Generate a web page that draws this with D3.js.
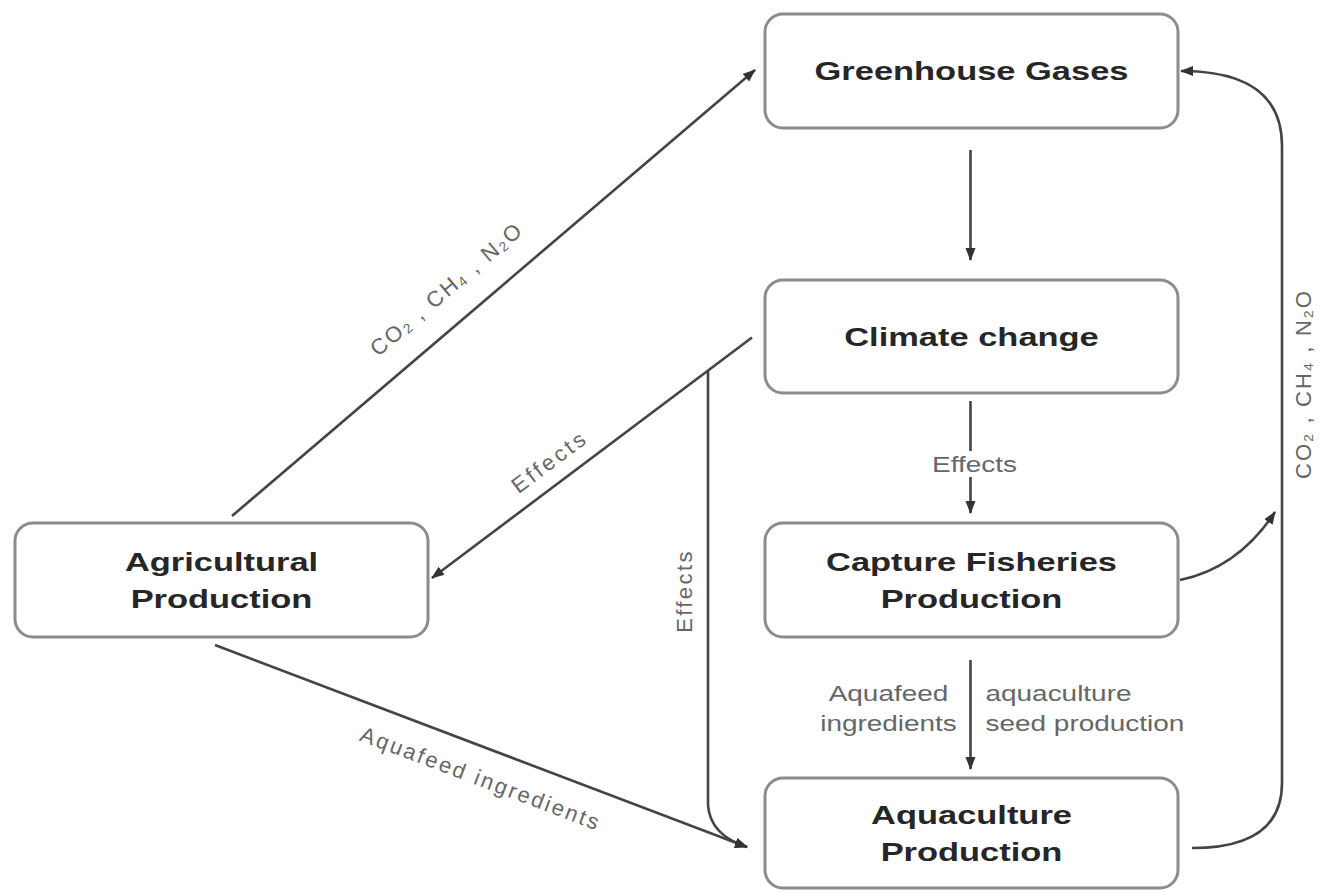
<!DOCTYPE html>
<html><head><meta charset="utf-8">
<script src="https://cdn.jsdelivr.net/npm/d3@7"></script>
<style>body{margin:0;background:#fff}svg{display:block}</style>
</head><body>
<svg id="c" width="1321" height="892"></svg>
<script>
// ---------- data ----------
const nodeIds    = ["ghg", "cc", "cap", "aqua", "agri"];
const nodeLines  = [["Greenhouse Gases"], ["Climate change"], ["Capture Fisheries", "Production"], ["Aquaculture", "Production"], ["Agricultural", "Production"]];
const nodeColumn = ["right", "right", "right", "right", "left"];
const nodeRow    = ["r0", "r1", "r2", "r3", "r2"];

const edgeFrom   = ["agri", "cc", "ghg", "cc", "cap", "agri", "cc", "aqua", "cap"];
const edgeTo     = ["ghg", "agri", "cc", "cap", "aqua", "aqua", "aqua", "ghg", "ghg"];
const edgeLabels = [
  ["CO{2} , CH{4} , N{2}O"],
  ["Effects"],
  [],
  ["Effects"],
  ["Aquafeed|ingredients", "aquaculture|seed production"],
  ["Aquafeed ingredients"],
  ["Effects"],
  ["CO{2} , CH{4} , N{2}O"],
  []
];

// ---------- layout ----------
const svg = d3.select("#c");
const xCol = d3.scaleOrdinal().domain(["left", "right"]).range([15, 765]);
const yRow = d3.scaleOrdinal().domain(["r0", "r1", "r2", "r3"]).range([14, 280, 523, 778]);
const hRow = d3.scaleOrdinal().domain(["r0", "r1", "r2", "r3"]).range([114, 113, 114, 110]);
const boxW = 413;

const nodes = nodeIds.map((id, i) => {
  const x0 = xCol(nodeColumn[i]), y0 = yRow(nodeRow[i]), h = hRow(nodeRow[i]);
  return {id, lines: nodeLines[i], x0, y0, x1: x0 + boxW, y1: y0 + h, cx: x0 + boxW / 2, cy: y0 + h / 2};
});
const N = Object.fromEntries(nodes.map(n => [n.id, n]));

const LINE = "#444", BOX = "#8c8c8c", TXT = "#262626", LAB = "#666";

svg.append("defs").append("marker")
  .attr("id", "ah").attr("viewBox", "-12 -6 13 12")
  .attr("refX", 0).attr("refY", 0)
  .attr("markerWidth", 13).attr("markerHeight", 12)
  .attr("markerUnits", "userSpaceOnUse").attr("orient", "auto")
  .append("path").attr("d", "M1,0 L-12,-5 L-12,5 Z").attr("fill", "#333");

// routes for each edge built from box geometry
function route(i) {
  const A = N.agri, G = N.ghg, C = N.cc, P = N.cap, Q = N.aqua;
  const bx = G.x1 + 104;
  switch (i) {
    case 0: return {pts: [[A.x0 + 217, A.y0 - 7], [G.x0 - 10, G.cy - 1]]};
    case 1: return {pts: [[C.x0 - 13, C.cy + 1], [A.x1 + 4, A.cy - 2]]};
    case 2: return {pts: [[G.cx - 1, G.y1 + 22], [G.cx - 1, C.y0 - 20]]};
    case 3: return {pts: [[C.cx - 1, C.y1 + 8], [C.cx - 1, P.y0 - 10]]};
    case 4: return {pts: [[P.cx - 1, P.y1 + 23], [P.cx - 1, Q.y0 - 9]]};
    case 5: return {pts: [[A.x0 + 200, A.y1 + 8], [Q.x0 - 18, Q.cy + 14]]};
    case 6: {
      const p = route(1).pts, xv = 708;
      const yv = p[0][1] + (p[0][0] - xv) / (p[0][0] - p[1][0]) * (p[1][1] - p[0][1]);
      const tip = [Q.x0 - 18, Q.cy + 14];
      return {d: `M${xv},${yv} V${Q.cy - 28} Q${xv + 2},${Q.cy + 2} ${tip[0]},${tip[1]}`, vx: xv, vy: (yv + Q.cy) / 2};
    }
    case 7: return {d: `M${Q.x1 + 14},${Q.cy + 15} Q${bx},${Q.cy + 15} ${bx},${Q.cy - 50} V${G.cy + 75} Q${bx},${G.cy} ${G.x1 + 3},${G.cy}`, vx: bx};
    case 8: return {d: `M${P.x1 + 2},${P.cy} Q${bx - 44},${P.cy - 12} ${bx - 7},${P.cy - 68}`};
  }
}

// boxes
const gN = svg.append("g");
gN.selectAll("rect").data(nodes).join("rect")
  .attr("x", d => d.x0).attr("y", d => d.y0)
  .attr("width", d => d.x1 - d.x0).attr("height", d => d.y1 - d.y0)
  .attr("rx", 18).attr("ry", 18)
  .attr("fill", "#fff").attr("stroke", BOX).attr("stroke-width", 3);

const SX = 1.3;
nodes.forEach(n => {
  const lh = 37, k = n.lines.length;
  n.lines.forEach((t, j) => {
    svg.append("text")
      .attr("transform", `translate(${n.cx},${n.cy + (j - (k - 1) / 2) * lh}) scale(${SX},1)`)
      .attr("text-anchor", "middle").attr("dominant-baseline", "central")
      .attr("font-family", "Liberation Sans, Arial, sans-serif")
      .attr("font-weight", "bold").attr("font-size", 26.5)
      .attr("fill", TXT).text(t);
  });
});

// edges
const gE = svg.append("g");
const routes = edgeFrom.map((f, i) => route(i));
routes.forEach((r, i) => {
  const d = r.d || d3.line()(r.pts);
  gE.append("path").attr("d", d).attr("fill", "none")
    .attr("stroke", LINE).attr("stroke-width", 2.6)
    .attr("marker-end", "url(#ah)");
});

// label helper with subscripts
function addRich(sel, s, fs) {
  const parts = s.split(/(\{\d\})/).filter(p => p);
  let prevSub = false;
  parts.forEach(part => {
    const m = part.match(/^\{(\d)\}$/);
    if (m) {
      sel.append("tspan").attr("font-size", fs * 0.62).attr("dy", fs * 0.22).text(m[1]);
      prevSub = true;
    } else {
      const t = sel.append("tspan").text(part);
      if (prevSub) t.attr("dy", -fs * 0.22);
      prevSub = false;
    }
  });
}

function diagLabel(i, t, off, ls) {
  const [[x0, y0], [x1, y1]] = routes[i].pts;
  let ang = Math.atan2(y1 - y0, x1 - x0);
  if (ang > Math.PI / 2) ang -= Math.PI; if (ang < -Math.PI / 2) ang += Math.PI;
  const px = x0 + (x1 - x0) * t, py = y0 + (y1 - y0) * t;
  const nx = Math.sin(ang), ny = -Math.cos(ang); // normal pointing "up" of text
  const cx = px + nx * off, cy = py + ny * off;
  const txt = svg.append("text")
    .attr("transform", `translate(${cx},${cy}) rotate(${ang * 180 / Math.PI})`)
    .attr("text-anchor", "middle").attr("dominant-baseline", "central")
    .attr("font-family", "Liberation Sans, Arial, sans-serif").attr("font-size", 22)
    .attr("letter-spacing", ls).attr("fill", LAB);
  addRich(txt, edgeLabels[i][0], 22);
}

diagLabel(0, 0.452, 34, 2.4);
diagLabel(1, 0.59, 23, 3.2);
diagLabel(5, 0.52, -30, 2.4);

// vertical "Effects" on branch line
svg.append("text")
  .attr("transform", `translate(${routes[6].vx - 24},${591}) rotate(-90)`)
  .attr("text-anchor", "middle").attr("dominant-baseline", "central")
  .attr("font-family", "Liberation Sans, Arial, sans-serif").attr("font-size", 22)
  .attr("letter-spacing", 2.4).attr("fill", LAB).text(edgeLabels[6][0]);

// right bracket label
{
  const t = svg.append("text")
    .attr("transform", `translate(${routes[7].vx + 21},${384}) rotate(-90)`)
    .attr("text-anchor", "middle").attr("dominant-baseline", "central")
    .attr("font-family", "Liberation Sans, Arial, sans-serif").attr("font-size", 22)
    .attr("letter-spacing", 2.2).attr("fill", LAB);
  addRich(t, edgeLabels[7][0], 22);
}

// "Effects" between climate change and capture fisheries (on white background)
{
  const p = routes[3].pts, cx = p[0][0], cy = (p[0][1] + p[1][1]) / 2 + 7;
  svg.append("rect").attr("x", cx - 48).attr("y", cy - 13).attr("width", 96).attr("height", 26).attr("fill", "#fff");
  svg.append("text")
    .attr("transform", `translate(${cx + 4},${cy}) scale(${SX},1)`)
    .attr("text-anchor", "middle").attr("dominant-baseline", "central")
    .attr("font-family", "Liberation Sans, Arial, sans-serif").attr("font-size", 21.5)
    .attr("fill", LAB).text(edgeLabels[3][0]);
}

// labels either side of capture -> aquaculture arrow
{
  const p = routes[4].pts, x = p[0][0];
  const [left, right] = edgeLabels[4].map(s => s.split("|"));
  left.forEach((s, j) => svg.append("text")
    .attr("transform", `translate(${x - 82},${693 + j * 30}) scale(${SX},1)`)
    .attr("text-anchor", "middle").attr("dominant-baseline", "central")
    .attr("font-family", "Liberation Sans, Arial, sans-serif").attr("font-size", 21.5)
    .attr("fill", LAB).text(s));
  right.forEach((s, j) => svg.append("text")
    .attr("transform", `translate(${x + 15},${693 + j * 30}) scale(${SX},1)`)
    .attr("text-anchor", "start").attr("dominant-baseline", "central")
    .attr("font-family", "Liberation Sans, Arial, sans-serif").attr("font-size", 21.5)
    .attr("fill", LAB).text(s));
}
</script>
</body></html>
